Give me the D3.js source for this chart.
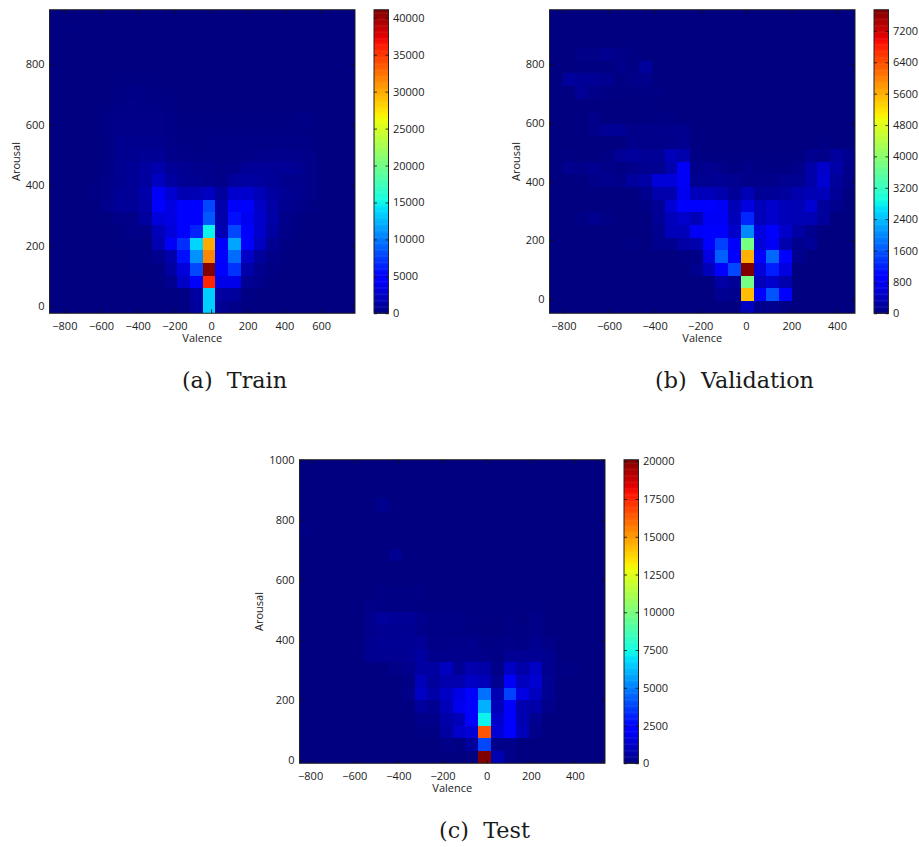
<!DOCTYPE html>
<html><head><meta charset="utf-8">
<style>html,body{margin:0;padding:0;background:#fff}svg{display:block}text{white-space:pre}</style>
<script src="https://cdn.jsdelivr.net/npm/d3@7/dist/d3.min.js"></script></head>
<body><svg id="c" width="919" height="847"></svg>
<script>
// counts: rows from lowest arousal bin upward, 24 valence bins per row
const trainCounts=[
[0,0,0,0,0,0,0,50,50,80,100,1000,13500,700,300,100,50,50,0,0,0,0,0,0],
[0,0,0,0,0,0,50,50,100,100,200,1200,13500,1200,1000,200,100,50,0,0,0,0,0,0],
[0,0,0,0,0,0,50,100,200,500,2500,4500,35700,3700,3800,700,400,100,50,0,0,0,0,0],
[0,0,0,0,0,50,100,100,200,1200,3300,8000,41000,4500,7200,1500,500,200,50,0,0,0,0,0],
[0,0,0,0,0,50,100,200,500,1500,5500,11000,31500,4500,9500,2500,1000,300,100,50,0,0,0,0],
[0,0,0,0,0,100,200,100,1800,4300,7000,13700,30000,4500,11800,4500,2300,700,200,50,0,0,0,0],
[0,0,0,0,50,100,300,300,2000,3200,4700,6500,15000,1800,8000,4700,2700,1200,300,100,0,0,0,0],
[0,0,0,0,100,300,300,1100,3200,3500,4700,4700,8700,1500,5600,4000,2700,1400,400,150,50,0,0,0],
[0,0,0,100,500,900,900,1300,4800,3500,4500,4500,8000,1500,4700,4700,2500,1300,600,400,200,0,0,0],
[0,0,0,200,400,800,800,1500,4300,2900,1800,1900,2400,1100,2800,2800,2000,1200,700,500,300,50,0,0],
[0,0,0,80,300,600,850,1100,2300,1200,750,650,550,400,1000,1200,1000,900,550,480,300,40,0,0],
[0,0,0,80,240,700,850,1200,1600,900,700,550,480,320,400,800,900,800,800,640,400,40,0,0],
[0,0,0,40,150,600,600,750,750,380,300,230,260,230,230,300,380,450,450,380,300,40,0,0],
[0,0,0,40,150,600,520,520,520,300,230,190,230,230,230,230,230,230,230,230,230,40,0,0],
[0,0,0,40,220,380,380,380,340,230,150,150,150,150,150,150,150,150,150,150,150,40,0,0],
[0,0,0,40,220,300,300,340,300,220,110,110,110,110,110,110,110,110,110,220,220,40,0,0],
[0,0,0,40,110,260,300,260,220,150,70,70,70,70,70,70,70,70,70,70,70,0,0,0],
[0,0,0,40,70,150,220,220,150,110,70,70,40,40,40,40,40,40,40,40,40,0,0,0],
[0,0,0,40,70,110,110,110,110,70,70,40,40,40,40,40,40,40,40,0,0,0,0,0],
[0,40,40,40,40,70,70,70,70,70,40,40,40,40,40,40,0,0,0,0,0,0,0,0],
[0,40,40,40,40,40,70,70,40,40,40,40,0,0,0,0,0,0,0,0,0,0,0,0],
[0,70,70,40,40,40,40,40,40,40,0,0,0,0,0,0,0,0,0,0,0,0,0,0],
[0,110,110,40,40,40,0,0,0,0,0,0,0,0,0,0,0,0,0,0,0,0,0,0],
[0,40,40,40,0,0,0,0,0,0,0,0,0,0,0,0,0,0,0,0,0,0,0,0]];
const valCounts=[
[0,0,0,0,0,0,0,0,0,0,0,0,0,0,0,450,100,100,50,0,0,0,0,0],
[0,0,0,0,0,0,0,0,0,0,0,0,0,130,100,5500,850,1600,850,0,0,0,0,0],
[0,0,0,0,0,0,0,0,0,0,0,0,0,250,150,3800,400,500,300,0,0,0,0,0],
[0,0,0,0,0,0,0,0,0,0,0,100,400,950,1500,7740,600,1200,650,0,0,0,0,0],
[0,0,0,0,0,0,0,0,0,0,50,50,650,1700,850,5600,850,1750,850,100,0,0,0,0],
[0,0,0,0,0,0,50,0,100,100,250,300,850,1450,850,3800,600,800,300,100,150,0,0,0],
[0,0,0,0,0,0,0,0,100,400,400,800,850,850,500,2000,650,850,500,250,100,0,0,0],
[0,0,50,100,50,0,0,0,150,400,500,400,800,800,400,1250,400,500,400,350,350,200,0,0],
[0,0,0,0,0,0,0,50,150,550,850,900,900,800,350,650,400,500,400,350,550,200,100,0],
[0,0,0,0,0,0,0,100,300,300,750,400,400,300,150,350,150,150,200,300,350,400,150,0],
[0,0,0,80,110,80,200,250,600,600,800,120,120,160,120,80,80,80,120,120,280,550,180,80],
[0,120,80,110,80,40,80,110,120,300,800,80,120,80,40,80,40,40,40,80,280,500,280,80],
[0,40,0,0,40,150,190,150,150,400,300,40,20,20,20,20,20,20,20,20,110,80,200,110],
[0,0,0,0,0,0,70,70,70,70,110,0,0,0,0,0,0,0,0,0,0,40,0,0],
[0,0,0,70,150,150,70,70,70,90,100,0,0,0,0,0,0,0,0,0,0,0,0,0],
[0,0,0,70,0,0,0,20,40,40,0,0,0,0,0,0,0,0,0,0,0,0,0,0],
[0,0,0,0,0,0,0,20,0,0,0,0,0,0,0,0,0,0,0,0,0,0,0,0],
[0,0,150,60,40,15,20,40,40,0,0,0,0,0,0,0,0,0,0,0,0,0,0,0],
[0,200,150,150,110,15,60,70,0,0,0,0,0,0,0,0,0,0,0,0,0,0,0,0],
[0,0,20,20,20,70,40,190,0,0,0,0,0,0,0,0,0,0,0,0,0,0,0,0],
[0,0,60,60,110,70,40,0,0,0,0,0,0,0,0,0,0,0,0,0,0,0,0,0],
[0,0,0,0,0,15,15,0,0,0,0,0,0,0,0,0,0,0,0,0,0,0,0,0],
[0,0,0,0,0,0,0,0,0,0,0,0,0,0,0,0,0,0,0,0,0,0,0,0],
[0,0,0,0,0,0,0,0,0,0,0,0,0,0,0,0,0,0,0,0,0,0,0,0]];
const testCounts=[
[0,0,0,0,0,0,0,0,0,0,0,0,0,0,20100,900,200,0,0,0,0,0,0,0],
[0,0,0,0,0,0,0,0,0,0,0,150,100,500,3900,200,200,0,0,0,0,0,0,0],
[0,0,0,0,0,0,0,0,0,100,100,600,1300,1500,16500,1500,2300,1000,200,0,0,0,0,0],
[0,0,0,0,0,0,0,0,0,200,200,700,1000,2200,7300,1300,2300,900,300,0,0,0,0,0],
[0,0,0,0,0,0,0,0,0,500,300,1000,1900,2300,6000,1000,2300,800,700,200,0,0,0,0],
[0,0,0,0,0,0,0,0,200,1200,700,1200,1800,2300,4700,900,3800,1700,1100,300,0,0,0,0],
[0,0,0,0,0,0,0,0,100,1000,500,800,800,1200,1000,300,2100,1100,1400,300,0,0,0,0],
[0,0,0,0,0,0,0,150,220,600,600,1100,400,800,700,150,1200,700,1200,250,70,70,0,0],
[0,0,0,0,0,280,320,320,350,600,220,220,220,220,150,110,380,380,380,280,0,0,0,0],
[0,0,0,0,0,280,350,350,350,450,150,150,180,220,70,110,150,110,280,150,0,0,0,0],
[0,0,0,0,0,220,320,320,350,220,110,110,110,70,0,0,110,70,150,0,0,0,0,0],
[0,0,0,0,0,220,500,420,420,250,110,110,110,70,40,0,70,0,180,0,0,0,0,0],
[0,0,0,0,0,150,110,70,70,70,40,40,40,40,40,40,40,40,40,0,0,0,0,0],
[0,0,0,0,0,0,70,70,70,70,0,0,0,0,0,0,0,0,0,0,0,0,0,0],
[0,0,0,0,0,0,40,0,0,0,0,0,0,0,0,0,0,0,0,0,0,0,0,0],
[0,0,0,0,0,0,0,0,0,0,0,0,0,0,0,0,0,0,0,0,0,0,0,0],
[0,0,0,0,0,0,0,300,0,0,0,0,0,0,0,0,0,0,0,0,0,0,0,0],
[0,0,0,0,0,0,0,0,0,0,0,0,0,0,0,0,0,0,0,0,0,0,0,0],
[70,0,0,0,0,0,60,0,0,0,0,0,0,0,0,0,0,0,0,0,0,0,0,0],
[0,0,0,0,0,0,40,0,0,0,0,0,0,0,0,0,0,0,0,0,0,0,0,0],
[0,0,0,0,0,0,250,0,0,0,0,0,0,0,0,0,0,0,0,0,0,0,0,0],
[0,0,0,0,0,0,0,0,0,0,0,0,0,0,0,0,0,0,0,0,0,0,0,0],
[0,0,0,0,0,0,0,60,0,0,0,0,0,0,0,0,0,0,0,0,0,0,0,0],
[0,0,0,0,0,0,0,0,0,0,0,0,0,0,0,0,0,0,0,0,0,0,0,0]];

const trainXTicks=[-800,-600,-400,-200,0,200,400,600];
const trainYTicks=[0,200,400,600,800];
const trainCbTicks=[0,5000,10000,15000,20000,25000,30000,35000,40000];
const valXTicks=[-800,-600,-400,-200,0,200,400];
const valYTicks=[0,200,400,600,800];
const valCbTicks=[0,800,1600,2400,3200,4000,4800,5600,6400,7200];
const testXTicks=[-800,-600,-400,-200,0,200,400];
const testYTicks=[0,200,400,600,800,1000];
const testCbTicks=[0,2500,5000,7500,10000,12500,15000,17500,20000];

const FONT='"Open Sans",sans-serif', FS=11, INK='#222';
const W=305.5,H=303.5;

// matplotlib "jet" channel breakpoints
const jetR=d3.scaleLinear().domain([0,.35,.66,.89,1]).range([0,0,1,1,.5]).clamp(true);
const jetG=d3.scaleLinear().domain([0,.125,.375,.64,.91,1]).range([0,0,1,1,0,0]).clamp(true);
const jetB=d3.scaleLinear().domain([0,.11,.34,.65,1]).range([.5,1,1,0,0]).clamp(true);
const jet=t=>d3.rgb(jetR(t)*255,jetG(t)*255,jetB(t)*255).formatRgb();

const svg=d3.select('#c');
const defs=svg.append('defs');
defs.append('filter').attr('id','soft').attr('x','-2%').attr('y','-2%').attr('width','104%').attr('height','104%')
  .append('feGaussianBlur').attr('stdDeviation',0.5);

function axisStyle(g){
  g.selectAll('path.domain').attr('stroke','none');
  g.selectAll('line').attr('stroke','#111').attr('stroke-width',0.8);
  g.selectAll('text').attr('font-family',FONT).attr('font-size',FS).attr('fill','#222');
}

function panel(o){
  const g=svg.append('g').attr('transform',`translate(${o.left},${o.top})`);
  const x=d3.scaleLinear().domain(o.xDomain).range([0,W]);
  const y=d3.scaleLinear().domain(o.yDomain).range([H,0]);
  const cbY=d3.scaleLinear().domain([0,o.max]).range([H,0]);
  const color=v=>jet(v/o.max);
  const nx=o.counts[0].length, ny=o.counts.length;
  const xe=i=>o.xDomain[0]+(o.xDomain[1]-o.xDomain[0])*i/nx;
  const ye=j=>o.yDomain[0]+(o.yDomain[1]-o.yDomain[0])*j/ny;

  const clipId='clip'+o.id;
  defs.append('clipPath').attr('id',clipId).append('rect').attr('width',W).attr('height',H);
  const cells=o.counts.flatMap((row,j)=>row.map((v,i)=>({i,j,v})));
  const heat=g.append('g').attr('clip-path',`url(#${clipId})`).append('g').attr('filter','url(#soft)');
  heat.selectAll('rect').data(cells).join('rect')
    .attr('shape-rendering','crispEdges')
    .attr('x',d=>Math.round(x(xe(d.i)))-(d.i===0?3:0))
    .attr('y',d=>Math.round(y(ye(d.j+1)))-(d.j===ny-1?3:0))
    .attr('width',d=>Math.round(x(xe(d.i+1)))-Math.round(x(xe(d.i)))+(d.i===0||d.i===nx-1?3:0))
    .attr('height',d=>Math.round(y(ye(d.j)))-Math.round(y(ye(d.j+1)))+(d.j===0||d.j===ny-1?3:0))
    .attr('fill',d=>color(d.v));

  g.append('rect').attr('width',W).attr('height',H).attr('fill','none').attr('stroke',INK).attr('stroke-width',1);

  const fmt=d3.format('d');
  g.append('g').attr('transform',`translate(0,${H})`)
    .call(d3.axisBottom(x).tickValues(o.xTicks).tickSizeInner(-4).tickSizeOuter(0).tickPadding(9).tickFormat(fmt)).call(axisStyle);
  g.append('g').attr('transform','translate(0,0)')
    .call(d3.axisTop(x).tickValues(o.xTicks).tickSizeInner(-4).tickSizeOuter(0).tickFormat('')).call(axisStyle);
  g.append('g').call(d3.axisLeft(y).tickValues(o.yTicks).tickSizeInner(-4).tickSizeOuter(0).tickPadding(5).tickFormat(fmt)).call(axisStyle);
  g.append('g').attr('transform',`translate(${W},0)`)
    .call(d3.axisRight(y).tickValues(o.yTicks).tickSizeInner(-4).tickSizeOuter(0).tickFormat('')).call(axisStyle);

  g.append('text').text('Valence').attr('x',W/2).attr('y',H+29)
    .attr('text-anchor','middle').attr('font-family',FONT).attr('font-size',FS).attr('fill','#222');
  g.append('text').text('Arousal').attr('transform',`translate(${-o.yLabelOff},${H/2}) rotate(-90)`)
    .attr('text-anchor','middle').attr('font-family',FONT).attr('font-size',FS).attr('fill','#222');

  // colorbar
  const cb=g.append('g').attr('transform',`translate(${W+19},0)`);
  const steps=d3.range(0,256);
  cb.selectAll('rect.s').data(steps).join('rect').attr('class','s')
    .attr('x',0).attr('width',14.5)
    .attr('y',d=>cbY((d+1)/256*o.max)).attr('height',d=>cbY(d/256*o.max)-cbY((d+1)/256*o.max)+0.5)
    .attr('fill',d=>jet((d+.5)/256));
  cb.append('rect').attr('width',14.5).attr('height',H).attr('fill','none').attr('stroke',INK).attr('stroke-width',1);
  cb.append('g').attr('transform','translate(14.5,0)')
    .call(d3.axisRight(cbY).tickValues(o.cbTicks).tickSizeInner(-3).tickSizeOuter(0).tickPadding(4.5).tickFormat(fmt)).call(axisStyle);
  cb.append('g')
    .call(d3.axisLeft(cbY).tickValues(o.cbTicks).tickSizeInner(-3).tickSizeOuter(0).tickFormat('')).call(axisStyle);

  svg.append('text').text(o.caption).attr('x',o.capX).attr('y',o.capY)
    .attr('text-anchor','middle').attr('font-family','"DejaVu Serif",serif').attr('font-size',22.3).attr('fill','#1a1a1a');
}

panel({id:'a',left:49.5,top:9.75,xDomain:[-881,785],yDomain:[-24,981],max:41090,counts:trainCounts,
  xTicks:trainXTicks,yTicks:trainYTicks,cbTicks:trainCbTicks,caption:'(a)  Train',capX:234.5,capY:388,yLabelOff:30});
panel({id:'b',left:549.5,top:9.75,xDomain:[-861,479],yDomain:[-48.6,986],max:7740,counts:valCounts,
  xTicks:valXTicks,yTicks:valYTicks,cbTicks:valCbTicks,caption:'(b)  Validation',capX:734.5,capY:388,yLabelOff:30});
panel({id:'c',left:299.5,top:459.75,xDomain:[-848,536],yDomain:[-11,1000],max:20100,counts:testCounts,
  xTicks:testXTicks,yTicks:testYTicks,cbTicks:testCbTicks,caption:'(c)  Test',capX:484.5,capY:838,yLabelOff:37});
</script></body></html>
